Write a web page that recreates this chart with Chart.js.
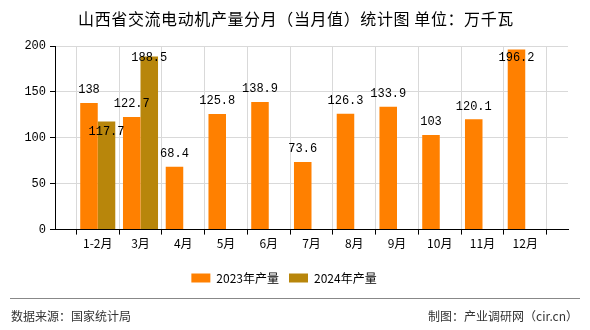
<!DOCTYPE html>
<html><head><meta charset="utf-8">
<script src="https://cdn.jsdelivr.net/npm/chart.js@4/dist/chart.umd.min.js"></script>
<style>html,body{margin:0;padding:0;background:#fff}#wrap{width:590px;height:330px;position:relative}</style>
</head><body><div id="wrap"><canvas id="c" width="590" height="330"></canvas></div>
<script>
const categories = ['', '1-2月', '3月', '4月', '5月', '6月', '7月', '8月', '9月', '10月', '11月', '12月', ''];
const series2023 = [null, 138, 122.7, 68.4, 125.8, 138.9, 73.6, 126.3, 133.9, 103, 120.1, 196.2, null];
const series2024 = [null, 117.7, 188.5, null, null, null, null, null, null, null, null, null, null];
const seriesNames = ['2023年产量', '2024年产量'];
const yTicks = [0, 50, 100, 150, 200];
const titleText = '山西省交流电动机产量分月（当月值）统计图 单位：万千瓦';
const sourceText = '数据来源：国家统计局';
const creditText = '制图：产业调研网（cir.cn）';

const CJK = "'Noto Sans CJK SC', 'DejaVu Sans', sans-serif";

const extras = {
  id: 'extras',
  afterDraw(chart) {
    const ctx = chart.ctx;
    ctx.save();
    ctx.fillStyle = '#000';
    ctx.font = '16px ' + CJK;
    ctx.letterSpacing = '0.6px';
    ctx.textAlign = 'center';
    ctx.textBaseline = 'middle';
    ctx.fillText(titleText, 296, 19);
    ctx.letterSpacing = '0px';
    // data labels
    ctx.font = "12px 'Liberation Mono', monospace";
    chart.data.datasets.forEach((ds, di) => {
      const meta = chart.getDatasetMeta(di);
      meta.data.forEach((el, i) => {
        const v = ds.data[i];
        if (v == null) return;
        let y = el.y - 13;
        if (di === 1 && i === 1) y = el.y + 10;
        if (y < chart.chartArea.top + 6) y = chart.chartArea.top + 12;
        ctx.fillText(String(v), el.x, y);
      });
    });
    // footer
    ctx.strokeStyle = '#888';
    ctx.lineWidth = 1;
    ctx.beginPath();
    ctx.moveTo(10, 298.5); ctx.lineTo(580, 298.5);
    ctx.stroke();
    ctx.fillStyle = '#333';
    ctx.font = '12px ' + CJK;
    ctx.textAlign = 'left';
    ctx.fillText(sourceText, 11, 316);
    ctx.textAlign = 'right';
    ctx.fillText(creditText, 578, 316);
    ctx.restore();
  }
};

new Chart(document.getElementById('c'), {
  type: 'bar',
  data: {
    labels: categories,
    datasets: [
      { label: seriesNames[0], data: series2023, backgroundColor: '#FF8000', borderWidth: 0 },
      { label: seriesNames[1], data: series2024, backgroundColor: '#B8860B', borderWidth: 0 }
    ]
  },
  options: {
    responsive: false,
    animation: false,
    layout: { padding: { top: 46, right: 22, bottom: 36, left: 0 } },
    datasets: { bar: { categoryPercentage: 0.82, barPercentage: 1 } },
    plugins: {
      legend: {
        position: 'bottom',
        labels: { boxWidth: 19, boxHeight: 9, color: '#000', font: { size: 12, family: CJK }, padding: 10 }
      },
      tooltip: { enabled: false },
      title: { display: false }
    },
    scales: {
      x: {
        offset: false,
        afterFit(s) { s.height += 9; },
        grid: { color: '#d9d9d9', tickColor: '#000', tickLength: 5, drawOnChartArea: true },
        border: { color: '#000' },
        ticks: { color: '#000', font: { size: 12, family: CJK }, maxRotation: 0, autoSkip: false, padding: 2 }
      },
      y: {
        min: 0, max: 200,
        afterFit(s) { s.width = 55; },
        afterBuildTicks(s) { s.ticks = yTicks.map(v => ({ value: v })); },
        grid: { color: '#d9d9d9', tickColor: '#000', tickLength: 5 },
        border: { color: '#000' },
        ticks: { color: '#000', font: { size: 12, family: "'Liberation Mono', monospace" }, padding: 4 }
      }
    }
  },
  plugins: [extras]
});
</script></body></html>
